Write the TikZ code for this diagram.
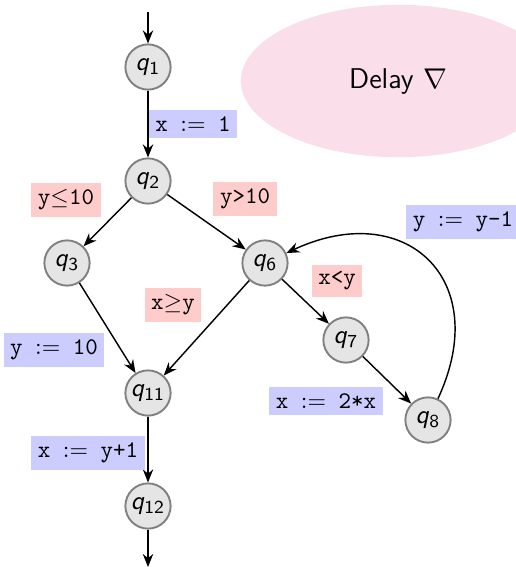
\documentclass[tikz,border=0pt]{standalone}
\usepackage{amsmath, amssymb}
\usetikzlibrary{arrows.meta, shapes.geometric}
\definecolor{guardred}{RGB}{255,204,204}
\definecolor{actblue}{RGB}{204,204,255}
\definecolor{delaypink}{RGB}{250,222,233}
\newcommand{\qs}[1]{\textsl{q}\textsubscript{#1}}

\begin{document}
\begin{tikzpicture}[x=0.42pt, y=-0.42pt,
    state/.style={circle, draw=gray, fill=gray!20, line width=0.8pt,
                  minimum size=19pt, inner sep=0pt,
                  font=\sffamily\fontsize{11}{13}\selectfont},
    guard/.style={fill=guardred, inner sep=2.8pt, font=\ttfamily},
    act/.style={fill=actblue, inner sep=2.8pt, font=\ttfamily},
    edge/.style={-{Stealth[length=5.5pt, width=4.4pt, inset=1.8pt]}, semithick}]
  \useasboundingbox (0,0) rectangle (516,567);
  \node[ellipse, fill=delaypink, minimum width=132pt, minimum height=64pt,
        font=\sffamily\large] (delay) at (398,81) {Delay $\nabla$};

  \node[state] (q1)  at (148,67)  {\qs{1}};
  \node[state] (q2)  at (148,181) {\qs{2}};
  \node[state] (q3)  at (67,263)  {\qs{3}};
  \node[state] (q6)  at (265,263) {\qs{6}};
  \node[state] (q7)  at (346,340) {\qs{7}};
  \node[state] (q8)  at (428,420) {\qs{8}};
  \node[state] (q11) at (148,393) {\qs{11}};
  \node[state] (q12) at (148,506) {\qs{12}};
  \coordinate (start) at (148,12);
  \coordinate (stop)  at (148,567);

  \draw[edge] (start) -- (q1);
  \draw[edge] (q1) -- (q2);
  \draw[edge] (q2) -- (q3);
  \draw[edge] (q2) -- (q6);
  \draw[edge] (q3) -- (q11);
  \draw[edge] (q6) -- (q11);
  \draw[edge] (q6) -- (q7);
  \draw[edge] (q7) -- (q8);
  \draw[edge] (q8) to[out=65, in=25, looseness=1.6] (q6);
  \draw[edge] (q11) -- (q12);
  \draw[edge] (q12) -- (stop);

  \node[act]   (a1)  at (193,124) {x $:=$ 1};
  \node[guard] (g1)  at (66,200)  {y$\leq$10};
  \node[guard] (g2)  at (245,199) {y>10};
  \node[act]   (a2)  at (463,222) {y $:=$ y-1};
  \node[guard] (g3)  at (173,305) {x$\geq$y};
  \node[guard] (g4)  at (337,281) {x<y};
  \node[act]   (a3)  at (54,350)  {y $:=$ 10};
  \node[act]   (a4)  at (326,401) {x $:=$ 2*x};
  \node[act]   (a5)  at (88,453)  {x $:=$ y+1};
\end{tikzpicture}
\end{document}
